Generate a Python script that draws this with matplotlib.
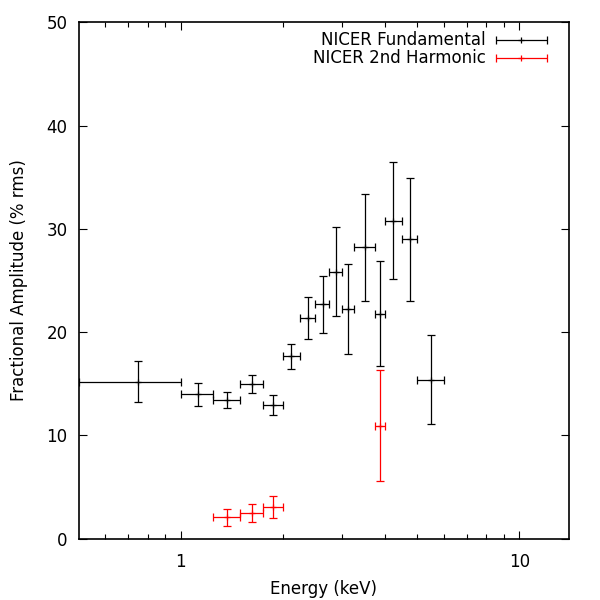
import numpy as np
import matplotlib
matplotlib.use('Agg')
import matplotlib.pyplot as plt
from matplotlib.ticker import FixedLocator, NullFormatter, FixedFormatter
from matplotlib.legend_handler import HandlerErrorbar

# energy bins (keV)
e_lo = [0.5, 1.0, 1.25, 1.5, 1.75, 2.0, 2.25, 2.5, 2.75, 3.0, 3.25, 3.75, 4.0, 4.5, 5.0]
e_hi = [1.0, 1.25, 1.5, 1.75, 2.0, 2.25, 2.5, 2.75, 3.0, 3.25, 3.75, 4.0, 4.5, 5.0, 6.0]
# fundamental amplitude and error (% rms)
fund = [15.2, 14.0, 13.45, 15.0, 12.95, 17.65, 21.4, 22.7, 25.85, 22.25, 28.2, 21.8, 30.8, 29.0, 15.4]
fund_err = [2.0, 1.1, 0.75, 0.85, 1.0, 1.2, 2.05, 2.75, 4.3, 4.35, 5.2, 5.05, 5.65, 5.95, 4.3]

# 2nd harmonic
h_lo = [1.25, 1.5, 1.75, 3.75]
h_hi = [1.5, 1.75, 2.0, 4.0]
harm = [2.07, 2.45, 3.1, 10.95]
harm_err = [0.8, 0.87, 1.05, 5.35]

plt.rcParams['font.family'] = 'DejaVu Sans'
plt.rcParams['font.size'] = 12

fig = plt.figure(figsize=(6, 6), dpi=100)
ax = fig.add_axes([0.131, 0.102, 0.817, 0.861])


def draw(lo, hi, y, yerr, color):
    lo = np.array(lo)
    hi = np.array(hi)
    x = (lo + hi) / 2
    xerr = [x - lo, hi - x]
    ax.errorbar(x, y, xerr=xerr, yerr=yerr, fmt='+', color=color, ms=5,
                elinewidth=0.9, capsize=2.6, capthick=0.9, mew=0.9)


draw(e_lo, e_hi, fund, fund_err, 'black')
draw(h_lo, h_hi, harm, harm_err, 'red')

# legend proxies (horizontal bars only, like gnuplot)
p1 = ax.errorbar([np.nan], [np.nan], xerr=[1], fmt='+', color='black', ms=5,
                 elinewidth=0.9, capsize=2.6, capthick=0.9, mew=0.9)
p2 = ax.errorbar([np.nan], [np.nan], xerr=[1], fmt='+', color='red', ms=5,
                 elinewidth=0.9, capsize=2.6, capthick=0.9, mew=0.9)
ax.legend([p1, p2], ['NICER Fundamental', 'NICER 2nd Harmonic'],
          loc='upper right', bbox_to_anchor=(0.985, 1.008), frameon=False,
          markerfirst=False, handlelength=3.2, handletextpad=0.55,
          labelspacing=0.0, borderaxespad=0.4,
          handler_map={type(p1): HandlerErrorbar(xerr_size=1.55)})

ax.set_xscale('log')
ax.set_xlim(0.5, 14)
ax.set_ylim(0, 50)
ax.xaxis.set_major_locator(FixedLocator([1, 10]))
ax.xaxis.set_major_formatter(FixedFormatter(['1', '10']))
minors = [0.6, 0.7, 0.8, 0.9, 2, 3, 4, 5, 6, 7, 8, 9]
ax.xaxis.set_minor_locator(FixedLocator(minors))
ax.xaxis.set_minor_formatter(NullFormatter())
ax.set_yticks([0, 10, 20, 30, 40, 50])

ax.tick_params(which='both', direction='in', top=True, right=True, width=0.8)
ax.tick_params(which='major', length=6)
ax.tick_params(which='minor', length=3.5)
ax.tick_params(axis='x', pad=10)
ax.tick_params(axis='y', pad=8)
for s in ax.spines.values():
    s.set_linewidth(1.2)

ax.set_xlabel('Energy (keV)', labelpad=7)
ax.set_ylabel('Fractional Amplitude (% rms)', labelpad=13)

fig.savefig('out.png', dpi=100)
